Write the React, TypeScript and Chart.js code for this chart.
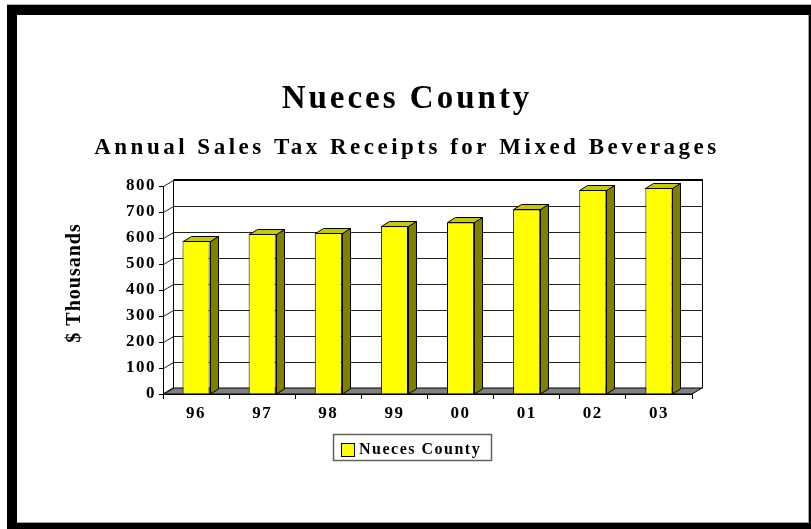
import { useEffect, useRef } from "react";
import { Chart, registerables } from "chart.js";

Chart.register(...registerables);

// ---------- data ----------
const CATEGORIES = ["96", "97", "98", "99", "00", "01", "02", "03"];
const SERIES_LABEL = "Nueces County";
const VALUES = [590, 617, 620, 645, 660, 710, 785, 792];
const Y_MIN = 0;
const Y_MAX = 800;
const Y_STEP = 100;
const TITLE = "Nueces County";
const SUBTITLE = "Annual Sales Tax Receipts for Mixed Beverages";
const Y_TITLE = "$ Thousands";

// ---------- style ----------
const SERIF = "'Liberation Serif', 'Times New Roman', serif";
const WALL_DX = 10;
const WALL_DY = 6;
const BAR_DX = 8;
const BAR_DY = 5;

const px = (v: number) => Math.round(v) + 0.5;

const threeDPlugin = {
  id: "threeD",
  beforeDraw(chart: any) {
    chart.ctx.letterSpacing = "1.5px";
  },
  beforeDatasetsDraw(chart: any) {
    const { ctx, chartArea: a, scales } = chart;
    const y = scales.y;
    ctx.save();
    ctx.letterSpacing = "0px";
    // floor
    ctx.beginPath();
    ctx.moveTo(a.left, a.bottom);
    ctx.lineTo(a.right, a.bottom);
    ctx.lineTo(a.right + WALL_DX, a.bottom - WALL_DY);
    ctx.lineTo(a.left + WALL_DX, a.bottom - WALL_DY);
    ctx.closePath();
    ctx.fillStyle = "#808080";
    ctx.fill();
    ctx.strokeStyle = "#000";
    ctx.lineWidth = 1;
    ctx.stroke();
    // gridlines on back wall + diagonals on left wall
    ctx.beginPath();
    y.ticks.forEach((t: any) => {
      const py = y.getPixelForValue(t.value);
      ctx.moveTo(px(a.left), px(py));
      ctx.lineTo(px(a.left + WALL_DX), px(py - WALL_DY));
      if (t.value > Y_MIN && t.value < Y_MAX) {
        ctx.moveTo(px(a.left + WALL_DX), px(py - WALL_DY));
        ctx.lineTo(px(a.right + WALL_DX), px(py - WALL_DY));
      }
    });
    ctx.strokeStyle = "#222";
    ctx.lineWidth = 1;
    ctx.stroke();
    // back wall edges
    const top = y.getPixelForValue(Y_MAX) - WALL_DY;
    const bot = y.getPixelForValue(Y_MIN) - WALL_DY;
    ctx.beginPath();
    ctx.moveTo(px(a.left + WALL_DX), px(top));
    ctx.lineTo(px(a.left + WALL_DX), px(bot));
    ctx.moveTo(px(a.right + WALL_DX), px(top));
    ctx.lineTo(px(a.right + WALL_DX), px(bot));
    ctx.strokeStyle = "#000";
    ctx.lineWidth = 1;
    ctx.stroke();
    ctx.beginPath();
    ctx.moveTo(px(a.left + WALL_DX), Math.round(top));
    ctx.lineTo(px(a.right + WALL_DX) + 0.5, Math.round(top));
    ctx.lineWidth = 2;
    ctx.stroke();
    ctx.restore();
  },
  afterDatasetsDraw(chart: any) {
    const { ctx } = chart;
    const meta = chart.getDatasetMeta(0);
    ctx.save();
    ctx.letterSpacing = "0px";
    ctx.strokeStyle = "#000";
    ctx.lineWidth = 1;
    meta.data.forEach((bar: any) => {
      const { x, y, base, width } = bar.getProps(["x", "y", "base", "width"], true);
      const l = Math.round(x - width / 2) + 0.5;
      const r = Math.round(x + width / 2) + 0.5;
      const t = Math.round(y) + 0.5;
      const b = Math.round(base);
      // right side
      ctx.beginPath();
      ctx.moveTo(r, t);
      ctx.lineTo(r + BAR_DX, t - BAR_DY);
      ctx.lineTo(r + BAR_DX, b - BAR_DY);
      ctx.lineTo(r, b);
      ctx.closePath();
      ctx.fillStyle = "#808000";
      ctx.fill();
      ctx.stroke();
      // top
      ctx.beginPath();
      ctx.moveTo(l, t);
      ctx.lineTo(l + BAR_DX, t - BAR_DY);
      ctx.lineTo(r + BAR_DX, t - BAR_DY);
      ctx.lineTo(r, t);
      ctx.closePath();
      ctx.fillStyle = "#C8C800";
      ctx.fill();
      ctx.stroke();
    });
    ctx.restore();
  },
  afterDraw(chart: any) {
    const { ctx } = chart;
    ctx.save();
    ctx.fillStyle = "#000";
    ctx.textBaseline = "alphabetic";
    // titles
    ctx.textAlign = "center";
    ctx.font = `bold 33px ${SERIF}`;
    ctx.letterSpacing = "3px";
    ctx.fillText(TITLE, 407, 108);
    ctx.font = `bold 23px ${SERIF}`;
    ctx.letterSpacing = "3.5px";
    ctx.fillText(SUBTITLE, 407, 154);
    // y title
    ctx.save();
    ctx.translate(80, 283);
    ctx.rotate(-Math.PI / 2);
    ctx.font = `bold 20px ${SERIF}`;
    ctx.letterSpacing = "1px";
    ctx.fillText(Y_TITLE, 0, 0);
    ctx.restore();
    // legend
    ctx.letterSpacing = "0px";
    ctx.strokeStyle = "#606060";
    ctx.lineWidth = 1.5;
    ctx.strokeRect(333.5, 434.5, 158, 26);
    ctx.fillStyle = "#FFFF00";
    ctx.fillRect(341, 443, 13, 13);
    ctx.strokeStyle = "#000";
    ctx.lineWidth = 1;
    ctx.strokeRect(341.5, 443.5, 13, 13);
    ctx.fillStyle = "#000";
    ctx.textAlign = "left";
    ctx.font = `bold 16px ${SERIF}`;
    ctx.letterSpacing = "1.5px";
    ctx.fillText(chart.data.datasets[0].label, 359, 454);
    ctx.restore();
  },
};

export default function App() {
  const ref = useRef<HTMLCanvasElement | null>(null);

  useEffect(() => {
    if (!ref.current) return;
    const chart = new Chart(ref.current, {
      type: "bar",
      data: {
        labels: CATEGORIES,
        datasets: [
          {
            label: SERIES_LABEL,
            data: VALUES,
            backgroundColor: "#FFFF00",
            borderColor: "#000",
            borderWidth: 1,
            barPercentage: 0.41,
            categoryPercentage: 1,
          },
        ],
      },
      options: {
        responsive: false,
        animation: false,
        events: [],
        layout: { padding: { left: 0, top: 186, right: 119, bottom: 105 } },
        plugins: {
          legend: { display: false },
          title: { display: false },
          tooltip: { enabled: false },
        },
        scales: {
          x: {
            afterFit: (s: any) => {
              s.height = 30;
            },
            grid: {
              drawOnChartArea: false,
              drawTicks: true,
              tickLength: 5,
              color: "#000",
              offset: true,
            },
            border: { display: true, color: "#000", width: 1 },
            ticks: {
              color: "#000",
              padding: 4,
              font: { family: SERIF, size: 17, weight: "bold" },
            },
          },
          y: {
            min: Y_MIN,
            max: Y_MAX,
            afterFit: (s: any) => {
              s.width = 163;
            },
            grid: {
              drawOnChartArea: false,
              drawTicks: true,
              tickLength: 4,
              color: "#000",
            },
            border: { display: true, color: "#000", width: 1 },
            ticks: {
              stepSize: Y_STEP,
              color: "#000",
              padding: 3,
              font: { family: SERIF, size: 17, weight: "bold" },
            },
          },
        },
      },
      plugins: [threeDPlugin],
    });
    return () => chart.destroy();
  }, []);

  return (
    <div style={{ position: "fixed", left: 0, top: 0, width: 811, height: 529, background: "#fff" }}>
      <div style={{ position: "absolute", left: 7, top: 4, width: 804, height: 1, background: "#b0b0b0" }} />
      <div style={{ position: "absolute", left: 7, top: 5, width: 804, height: 524, background: "#000" }} />
      <div style={{ position: "absolute", left: 17, top: 15, width: 792, height: 508, background: "#fff", boxShadow: "inset -1px -1px 0 #a0a0a0" }} />
      <canvas ref={ref} width={811} height={529} style={{ position: "absolute", left: 0, top: 0 }} />
    </div>
  );
}
